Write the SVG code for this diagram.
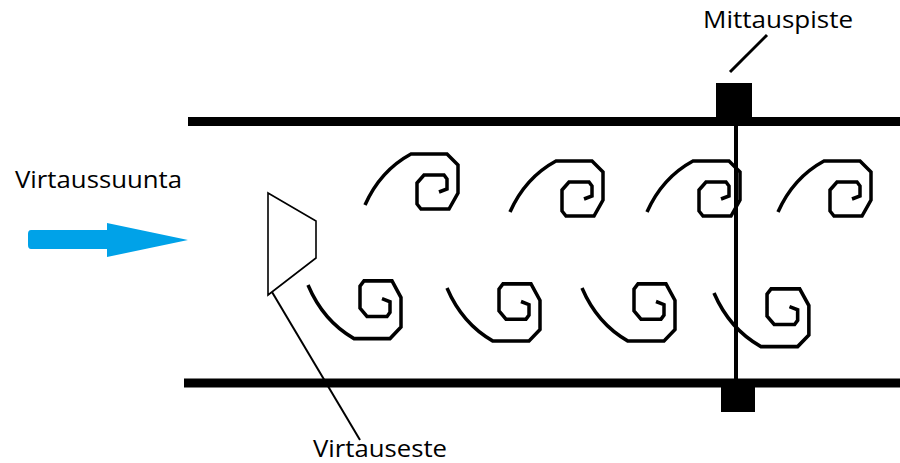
<svg xmlns="http://www.w3.org/2000/svg" width="900" height="463" viewBox="0 0 900 463">
  <style>
    .wall { stroke: #000; stroke-width: 9; fill: none; }
    .thin { stroke: #000; fill: none; }
    .swirl { stroke: #000; stroke-width: 3.5; fill: none; stroke-linejoin: miter; stroke-linecap: butt; }
    .label { font-family: "Open Sans", "Noto Sans", sans-serif; font-size: 24.5px; fill: #000; }
  </style>
  <defs>
    <!-- one eddy: tail rising to the right, curling clockwise into a spiral -->
    <path id="eddy" class="swirl" d="M0,0 C8,-18 22,-38 46,-51 L82,-51 L93,-40 L93,-12 L84,4 L56,4 L52,-1 L52,-22 L59,-30 L79,-30 L82,-26 L82,-16 L74,-13"/>
  </defs>
  <rect width="900" height="463" fill="#fff"/>

  <!-- pipe walls -->
  <g id="pipe">
    <line class="wall" x1="188" y1="121.5" x2="900" y2="121.5"/>
    <line class="wall" x1="184" y1="383" x2="900" y2="383"/>
  </g>

  <!-- flow direction arrow -->
  <g id="flow-arrow">
    <path d="M31,230 L107,230 L107,223 L188,240 L107,257 L107,249 L31,249 Q28,249 28,245 L28,234 Q28,230 31,230 Z" fill="#00a2e8"/>
    <text class="label" x="15" y="188" textLength="167" lengthAdjust="spacingAndGlyphs">Virtaussuunta</text>
  </g>

  <!-- obstacle (bluff body) -->
  <g id="obstacle">
    <polygon class="thin" stroke-width="1.6" points="268,193 316,221 316,258 268,295"/>
  </g>

  <!-- measuring point: sensors on both walls joined by a line -->
  <g id="measuring-point">
    <rect x="716" y="83" width="36" height="36" fill="#000"/>
    <rect x="721" y="383" width="34" height="29" fill="#000"/>
    <line class="thin" stroke-width="4" x1="736" y1="117" x2="736" y2="380"/>
  </g>

  <!-- vortex street -->
  <g id="vortices">
    <use href="#eddy" transform="translate(365,205)"/>
    <use href="#eddy" transform="translate(510,212)"/>
    <use href="#eddy" transform="translate(647,212)"/>
    <use href="#eddy" transform="translate(778,212)"/>
    <use href="#eddy" transform="translate(308,285) scale(1,-1.05)"/>
    <use href="#eddy" transform="translate(447,288) scale(1,-1.04)"/>
    <use href="#eddy" transform="translate(582,288) scale(1,-1.04)"/>
    <use href="#eddy" transform="translate(714,293) scale(1.02,-1.05)"/>
  </g>

  <!-- leader lines -->
  <g id="connectors">
    <line class="thin" stroke-width="2" x1="272" y1="292" x2="360" y2="440"/>
    <line class="thin" stroke-width="3" x1="767" y1="35" x2="730" y2="72"/>
  </g>
  <g id="labels">
    <text class="label" x="703" y="28" textLength="150" lengthAdjust="spacingAndGlyphs">Mittauspiste</text>
    <text class="label" x="313" y="457" textLength="134" lengthAdjust="spacingAndGlyphs">Virtauseste</text>
  </g>
</svg>
